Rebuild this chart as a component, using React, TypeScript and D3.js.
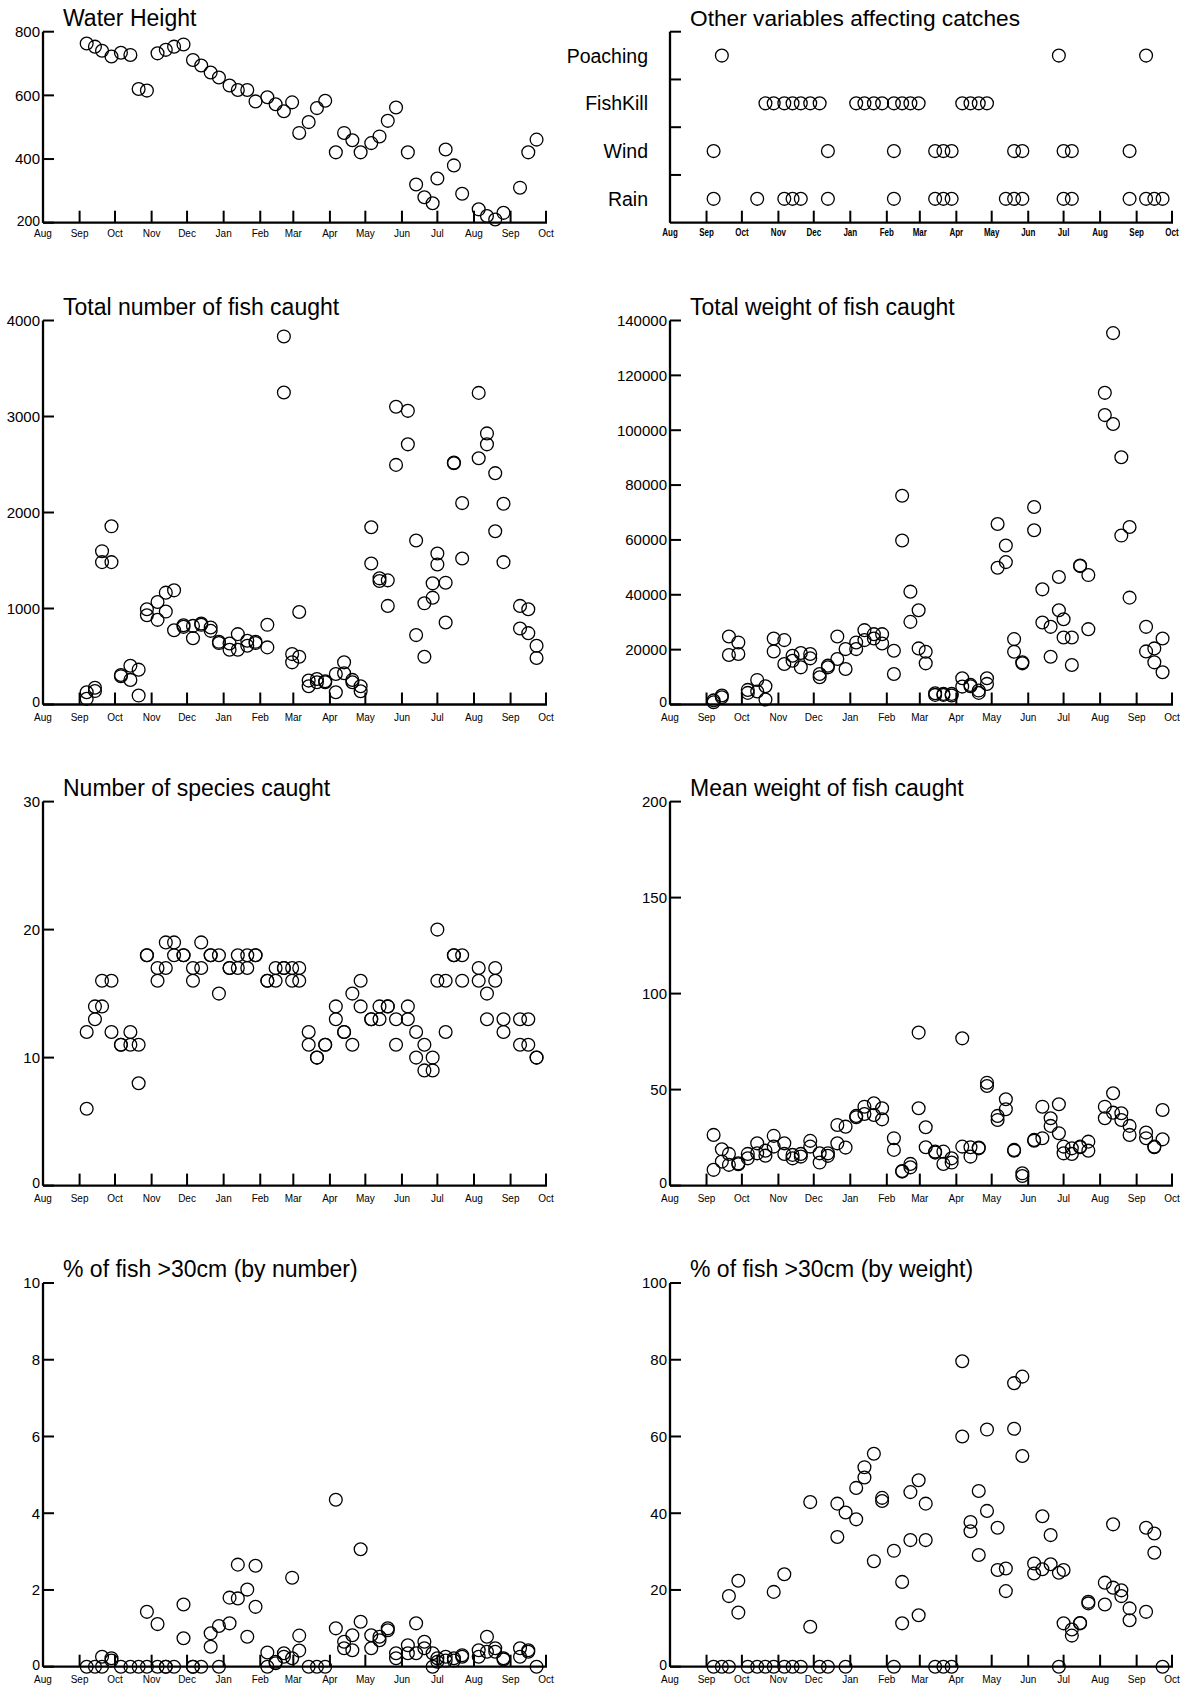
import React from "react";
import * as d3 from "d3";

// ---------- DATA ----------
const axisStart = "2004-08-01";
const axisEnd = "2005-10-01";

// weekly sampling dates (two sites per date in most panels)
const sampleDates = [
  "2004-09-07", "2004-09-14", "2004-09-20", "2004-09-28", "2004-10-06", "2004-10-14", "2004-10-21", "2004-10-28",
  "2004-11-06", "2004-11-13", "2004-11-20", "2004-11-28", "2004-12-06", "2004-12-13", "2004-12-21", "2004-12-28",
  "2005-01-06", "2005-01-13", "2005-01-21", "2005-01-28", "2005-02-07", "2005-02-14", "2005-02-21", "2005-02-28",
  "2005-03-06", "2005-03-14", "2005-03-21", "2005-03-28", "2005-04-06", "2005-04-13", "2005-04-20", "2005-04-27",
  "2005-05-06", "2005-05-13", "2005-05-20", "2005-05-27", "2005-06-06", "2005-06-13", "2005-06-20", "2005-06-27",
  "2005-07-01", "2005-07-08", "2005-07-15", "2005-07-22", "2005-08-05", "2005-08-12", "2005-08-19", "2005-08-26",
  "2005-09-09", "2005-09-16", "2005-09-23",
];

const waterHeight = [
  763, 753, 740, 722, 734, 727, 620, 615, 732, 743, 753, 760, 711, 694, 672, 656,
  631, 617, 617, 581, 594, 572, 550, 578, 482, 516, 560, 583, 421, 482, 459, 421,
  450, 471, 520, 562, 421, 320, 280, 261, 339, 430, 380, 291, 242, 221, 210, 231,
  310, 421, 461,
];

const totalNumber = [
  [128, 59], [175, 140], [1597, 1483], [1856, 1483], [308, 295], [404, 256], [363, 93], [992, 930],
  [1068, 882], [1165, 968], [1189, 774], [826, 809], [819, 691], [843, 830], [802, 767], [653, 640],
  [636, 570], [733, 570], [664, 612], [653, 640], [830, 595], [], [3834, 3250], [525, 439],
  [964, 498], [249, 190], [266, 232], [242, 232], [318, 128], [439, 325], [256, 232], [190, 138],
  [1846, 1469], [1314, 1286], [1293, 1027], [3101, 2496], [3059, 2710], [1708, 723], [1054, 498], [1262, 1113],
  [1573, 1459], [1269, 854], [2520, 2513], [2098, 1521], [3246, 2565], [2824, 2710], [2410, 1805], [2091, 1483],
  [1027, 792], [992, 743], [612, 484],
];

const totalWeight = [
  [1500, 800], [3267, 2662], [24805, 18029], [22627, 18392], [5324, 4235], [8954, 4719], [6655, 1815], [24079, 19360],
  [23474, 14762], [17787, 15972], [18755, 13552], [18392, 16819], [11132, 9922], [14157, 13552], [24805, 16577], [20207, 12947],
  [22627, 20207], [27104, 23474], [25652, 24079], [25652, 22264], [19602, 11132], [76109, 59774], [41140, 30129], [34364, 20449],
  [19239, 15004], [4114, 3509], [3872, 3509], [3872, 3267], [9559, 6534], [7139, 6655], [5082, 4235], [9559, 7502],
  [65824, 49852], [57959, 51909], [23837, 19239], [15367, 15004], [71995, 63525], [41987, 29887], [28314, 17424], [46464, 34364],
  [31097, 24442], [24442, 14399], [50699, 50457], [47190, 27467], [113619, 105512], [135399, 102245], [90145, 61589], [64735, 38962],
  [28314, 19360], [20449, 15367], [24079, 11737],
];

const speciesCount = [
  [12, 6], [14, 13], [16, 14], [16, 12], [11, 11], [12, 11], [11, 8], [18, 18],
  [17, 16], [19, 17], [19, 18], [18, 18], [17, 16], [19, 17], [18, 18], [18, 15],
  [17, 17], [18, 17], [18, 17], [18, 18], [16, 16], [17, 16], [17, 17], [17, 16],
  [17, 16], [12, 11], [10, 10], [11, 11], [14, 13], [12, 12], [15, 11], [16, 14],
  [13, 13], [14, 13], [14, 14], [13, 11], [14, 13], [12, 10], [11, 9], [10, 9],
  [20, 16], [16, 12], [18, 18], [18, 16], [17, 16], [15, 13], [17, 16], [13, 12],
  [13, 11], [13, 11], [10, 10],
];

const meanWeight = [
  [26.4, 8.2], [18.9, 12.5], [16.5, 10.8], [11.6, 11.1], [16.5, 14.2], [22, 16.8], [18.2, 15.6], [25.9, 20.3],
  [22, 16.5], [16, 14.2], [16.5, 15.1], [23.3, 20.3], [16.8, 12], [16.8, 15.5], [31.6, 22], [30.7, 19.8],
  [36.3, 35.6], [41.1, 37.3], [42.9, 36.8], [40.3, 34.5], [24.7, 18.6], [7.6, 7.3], [11.3, 9.5], [79.7, 40.3],
  [30.4, 20], [17.7, 17.2], [17.7, 11.3], [14.2, 12], [76.7, 20.3], [20, 15.1], [19.8, 19.4], [53.6, 51.9],
  [36.3, 34.2], [45, 39.8], [18.6, 18.2], [6.4, 5], [23.8, 23.4], [41.1, 24.7], [35.1, 31.1], [42.4, 27.3],
  [20.3, 16.8], [19.4, 16.5], [20.3, 20], [22.9, 18.2], [41.1, 35.1], [48.1, 38], [37.7, 34.2], [31.1, 26.4],
  [27.6, 24.7], [20.3, 20], [39.4, 24.1],
];

const pctOver30Number = [
  [0], [0], [0.26, 0], [0.22, 0.16], [0], [0], [0], [1.43, 0],
  [1.11, 0], [0, 0], [0], [1.62, 0.74], [0, 0], [0], [0.87, 0.52], [1.06, 0],
  [1.8, 1.13], [2.66, 1.78], [2.01, 0.78], [2.63, 1.56], [0.37, 0], [0.09, 0.13], [0.35, 0.26], [2.32, 0.22],
  [0.81, 0.42], [0], [0], [0], [4.35, 1.0], [0.65, 0.48], [0.82, 0.43], [3.06, 1.17],
  [0.82, 0.48], [0.78, 0.69], [1.0, 0.95], [0.35, 0.22], [0.56, 0.35], [1.13, 0.35], [0.65, 0.48], [0.35, 0],
  [0.22, 0.13], [0.26, 0.16], [0.22, 0.16], [0.3, 0.26], [0.43, 0.26], [0.78, 0.39], [0.48, 0.39], [0.22, 0.19],
  [0.48, 0.26], [0.43, 0.39], [0],
];

const pctOver30Weight = [
  [0], [0], [18.4, 0], [22.4, 14.1], [0], [0], [0], [19.5, 0],
  [24.1, 0], [0], [0], [42.9, 10.4], [0], [0], [42.5, 33.8], [40.2, 0],
  [46.6, 38.4], [52, 49.3], [55.5, 27.5], [44, 43.2], [30.2, 0], [22.1, 11.3], [45.5, 33], [48.6, 13.4],
  [42.5, 33], [0], [0], [0], [79.6, 60], [37.7, 35.3], [45.8, 29.1], [61.8, 40.6],
  [36.2, 25.2], [25.6, 19.7], [73.9, 62], [75.6, 54.9], [26.9, 24.3], [39.2, 25.4], [34.3, 26.7], [24.5, 0],
  [25.2, 11.3], [9.7, 8.1], [11.4, 11.3], [16.9, 16.5], [21.9, 16.2], [37.1, 20.6], [19.9, 18.4], [15.2, 12.1],
  [36.2, 14.3], [34.7, 29.7], [0],
];

const categories = ["Poaching", "FishKill", "Wind", "Rain"];
const poachingDates = ["2004-09-14", "2005-06-27", "2005-09-09"];
const fishKillDates = [
  "2004-10-21", "2004-10-28", "2004-11-06", "2004-11-13", "2004-11-20", "2004-11-28", "2004-12-06",
  "2005-01-06", "2005-01-13", "2005-01-21", "2005-01-28", "2005-02-07", "2005-02-14", "2005-02-21", "2005-02-28",
  "2005-04-06", "2005-04-13", "2005-04-20", "2005-04-27",
];
const windDates = [
  "2004-09-07", "2004-12-13", "2005-02-07", "2005-03-14", "2005-03-21", "2005-03-28",
  "2005-05-20", "2005-05-27", "2005-07-01", "2005-07-08", "2005-08-26",
];
const rainDates = [
  "2004-09-07", "2004-10-14", "2004-11-06", "2004-11-13", "2004-11-20", "2004-12-13", "2005-02-07",
  "2005-03-14", "2005-03-21", "2005-03-28", "2005-05-13", "2005-05-20", "2005-05-27", "2005-07-01",
  "2005-07-08", "2005-08-26", "2005-09-09", "2005-09-16", "2005-09-23",
];

// ---------- LAYOUT ----------
const W = 1192;
const H = 1697;
const COLS = [
  { x0: 43, x1: 546 },
  { x0: 670, x1: 1172 },
];
const ROWS = [
  { top: 31.7, bottom: 222.7, labelDy: 14.5 },
  { top: 320.5, bottom: 704.5, labelDy: 16 },
  { top: 801.6, bottom: 1185.6, labelDy: 16 },
  { top: 1283, bottom: 1666.7, labelDy: 16 },
];
const FONT = "'Liberation Sans', Arial, Helvetica, sans-serif";
const R = 6.4;
const STROKE = 1.3;

const parse = d3.utcParse("%Y-%m-%d");
const monthFmt = d3.utcFormat("%b");

type Panel = {
  title: string;
  col: number;
  row: number;
  domain: [number, number];
  tickCount: number;
  values: number[][];
};

const panels: Panel[] = [
  { title: "Water Height", col: 0, row: 0, domain: [200, 800], tickCount: 3, values: waterHeight.map((v) => [v]) },
  { title: "Total number of fish caught", col: 0, row: 1, domain: [0, 4000], tickCount: 4, values: totalNumber },
  { title: "Total weight of fish caught", col: 1, row: 1, domain: [0, 140000], tickCount: 7, values: totalWeight },
  { title: "Number of species caught", col: 0, row: 2, domain: [0, 30], tickCount: 3, values: speciesCount },
  { title: "Mean weight of fish caught", col: 1, row: 2, domain: [0, 200], tickCount: 4, values: meanWeight },
  { title: "% of fish >30cm (by number)", col: 0, row: 3, domain: [0, 10], tickCount: 5, values: pctOver30Number },
  { title: "% of fish >30cm (by weight)", col: 1, row: 3, domain: [0, 100], tickCount: 5, values: pctOver30Weight },
];

function makeX(col: number) {
  return d3
    .scaleUtc()
    .domain([parse(axisStart) as Date, parse(axisEnd) as Date])
    .range([COLS[col].x0, COLS[col].x1]);
}

function XAxis({ col, row, condensed }: { col: number; row: number; condensed?: boolean }) {
  const x = makeX(col);
  const { bottom, labelDy } = ROWS[row];
  const ticks = x.ticks(d3.utcMonth.every(1) as any);
  return (
    <g>
      {ticks.map((t, i) => (
        <line key={"t" + i} x1={x(t)} x2={x(t)} y1={bottom} y2={bottom - 12} stroke="#000" strokeWidth={2} />
      ))}
      <line x1={COLS[col].x0} x2={COLS[col].x1 + 1} y1={bottom} y2={bottom} stroke="#000" strokeWidth={2.3} />
      {ticks.map((t, i) =>
        condensed ? (
          <text
            key={"l" + i}
            transform={`translate(${x(t)},${bottom + labelDy - 1}) scale(0.8,1)`}
            textAnchor="middle"
            fontSize={10}
            fontWeight="bold"
          >
            {monthFmt(t)}
          </text>
        ) : (
          <text key={"l" + i} x={x(t)} y={bottom + labelDy} textAnchor="middle" fontSize={10}>
            {monthFmt(t)}
          </text>
        )
      )}
    </g>
  );
}

function ScatterPanel({ p }: { p: Panel }) {
  const x = makeX(p.col);
  const { top, bottom } = ROWS[p.row];
  const x0 = COLS[p.col].x0;
  const y = d3.scaleLinear().domain(p.domain).range([bottom, top]);
  const yTicks = y.ticks(p.tickCount);
  const fmt = d3.format("d");
  return (
    <g>
      <text x={x0 + 20} y={top - 6} fontSize={23}>
        {p.title}
      </text>
      <line x1={x0} x2={x0} y1={top} y2={bottom} stroke="#000" strokeWidth={2.3} />
      {yTicks.map((t, i) => (
        <g key={i}>
          <line x1={x0} x2={x0 + 11} y1={y(t)} y2={y(t)} stroke="#000" strokeWidth={2} />
          <text x={x0 - 3} y={y(t)} dy={i === 0 ? "0.2em" : "0.36em"} textAnchor="end" fontSize={i === 0 ? 14 : 15}>
            {fmt(t)}
          </text>
        </g>
      ))}
      <XAxis col={p.col} row={p.row} />
      {p.values.map((vals, i) =>
        vals.map((v, j) => (
          <circle
            key={i + "-" + j}
            cx={x(parse(sampleDates[i]) as Date)}
            cy={y(v)}
            r={R}
            fill="none"
            stroke="#000"
            strokeWidth={STROKE}
          />
        ))
      )}
    </g>
  );
}

function CategoryPanel() {
  const col = 1;
  const row = 0;
  const x = makeX(col);
  const { top, bottom } = ROWS[row];
  const x0 = COLS[col].x0;
  const y = d3.scaleBand<string>().domain(categories).range([top, bottom]);
  const bw = y.bandwidth();
  const dateLists: Record<string, string[]> = {
    Poaching: poachingDates,
    FishKill: fishKillDates,
    Wind: windDates,
    Rain: rainDates,
  };
  return (
    <g>
      <text x={x0 + 20} y={top - 6} fontSize={22.7}>
        Other variables affecting catches
      </text>
      <line x1={x0} x2={x0} y1={top} y2={bottom} stroke="#000" strokeWidth={2.3} />
      {categories.map((c) => (
        <g key={c}>
          <line x1={x0} x2={x0 + 11} y1={y(c) as number} y2={y(c) as number} stroke="#000" strokeWidth={2} />
          <text x={x0 - 22} y={(y(c) as number) + bw / 2} dy="0.36em" textAnchor="end" fontSize={19.5}>
            {c}
          </text>
        </g>
      ))}
      <XAxis col={col} row={row} condensed />
      {categories.map((c) =>
        dateLists[c].map((d, i) => (
          <circle
            key={c + i}
            cx={x(parse(d) as Date)}
            cy={(y(c) as number) + bw / 2}
            r={R}
            fill="none"
            stroke="#000"
            strokeWidth={STROKE}
          />
        ))
      )}
    </g>
  );
}

export default function App() {
  return (
    <svg
      width={W}
      height={H}
      viewBox={`0 0 ${W} ${H}`}
      style={{ position: "absolute", left: 0, top: 0, background: "#fff" }}
      fontFamily={FONT}
    >
      <rect x={0} y={0} width={W} height={H} fill="#fff" />
      {panels.map((p, i) => (
        <ScatterPanel key={i} p={p} />
      ))}
      <CategoryPanel />
    </svg>
  );
}
